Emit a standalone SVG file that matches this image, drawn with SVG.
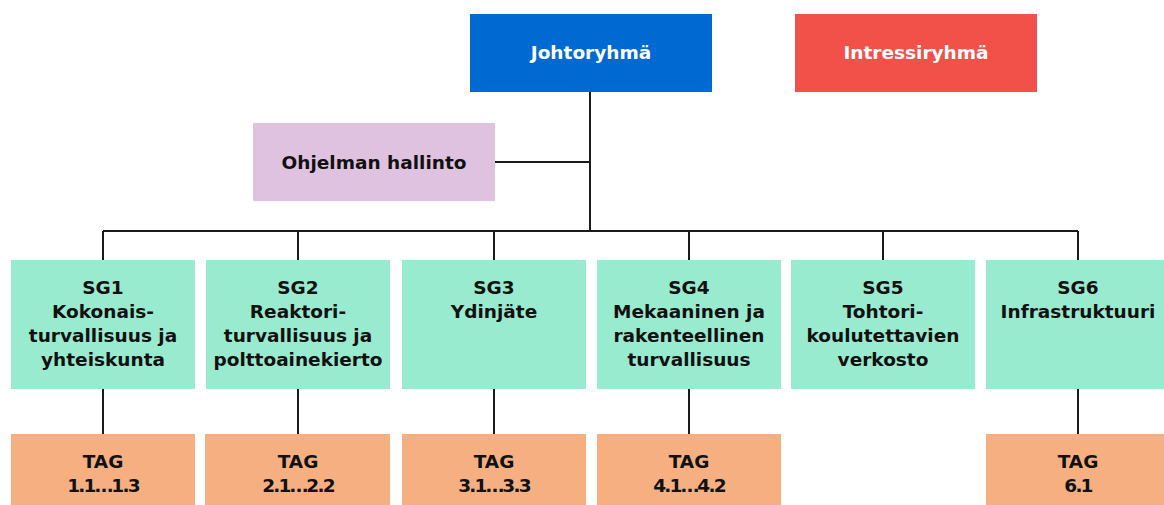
<svg xmlns="http://www.w3.org/2000/svg" width="1164" height="505" viewBox="0 0 1164 505">
<style>
text{font-family:"DejaVu Sans","Liberation Sans",sans-serif;font-weight:700;font-size:18.5px;text-anchor:middle;fill:#111}
.n{letter-spacing:-1.8px}
.w{fill:#fff}
.sg{fill:#99EBCF}
.tag{fill:#F5AF80}
.ln{stroke:#1a1a1a;stroke-width:2;fill:none}
</style>
<g id="connectors">
<path class="ln" d="M590 92V231M495 162H590M103 231H1078M103 231V260M298 231V260M494 231V260M689 231V260M883 231V260M1078 231V260"/>
<path class="ln" d="M103 389V434M298 389V434M494 389V434M689 389V434M1078 389V434"/>
</g>
<g id="johtoryhma"><rect x="470" y="14" width="242" height="78" fill="#0069D2"/><text class="w" x="591" y="59">Johtoryhmä</text></g>
<g id="intressiryhma"><rect x="795" y="14" width="242" height="78" fill="#F25149"/><text class="w" x="916" y="59">Intressiryhmä</text></g>
<g id="hallinto"><rect x="253" y="123" width="242" height="78" fill="#DFC2DF"/><text x="374" y="169">Ohjelman hallinto</text></g>
<g id="sg1"><rect class="sg" x="11" y="260" width="184" height="129"/><text x="103" y="294">SG1</text><text x="103" y="318">Kokonais-</text><text x="103" y="342">turvallisuus ja</text><text x="103" y="366">yhteiskunta</text></g>
<g id="sg2"><rect class="sg" x="206" y="260" width="184" height="129"/><text x="298" y="294">SG2</text><text x="298" y="318">Reaktori-</text><text x="298" y="342">turvallisuus ja</text><text x="298" y="366">polttoainekierto</text></g>
<g id="sg3"><rect class="sg" x="402" y="260" width="184" height="129"/><text x="494" y="294">SG3</text><text x="494" y="318">Ydinjäte</text></g>
<g id="sg4"><rect class="sg" x="597" y="260" width="184" height="129"/><text x="689" y="294">SG4</text><text x="689" y="318">Mekaaninen ja</text><text x="689" y="342">rakenteellinen</text><text x="689" y="366">turvallisuus</text></g>
<g id="sg5"><rect class="sg" x="791" y="260" width="184" height="129"/><text x="883" y="294">SG5</text><text x="883" y="318">Tohtori-</text><text x="883" y="342">koulutettavien</text><text x="883" y="366">verkosto</text></g>
<g id="sg6"><rect class="sg" x="986" y="260" width="184" height="129"/><text x="1078" y="294">SG6</text><text x="1078" y="318">Infrastruktuuri</text></g>
<g id="tag1"><rect class="tag" x="11" y="434" width="184" height="71"/><text x="103" y="468">TAG</text><text class="n" x="103" y="492">1.1…1.3</text></g>
<g id="tag2"><rect class="tag" x="205" y="434" width="185" height="71"/><text x="298" y="468">TAG</text><text class="n" x="298" y="492">2.1…2.2</text></g>
<g id="tag3"><rect class="tag" x="402" y="434" width="184" height="71"/><text x="494" y="468">TAG</text><text class="n" x="494" y="492">3.1…3.3</text></g>
<g id="tag4"><rect class="tag" x="597" y="434" width="184" height="71"/><text x="689" y="468">TAG</text><text class="n" x="689" y="492">4.1…4.2</text></g>
<g id="tag6"><rect class="tag" x="986" y="434" width="184" height="71"/><text x="1078" y="468">TAG</text><text class="n" x="1078" y="492">6.1</text></g>
</svg>
